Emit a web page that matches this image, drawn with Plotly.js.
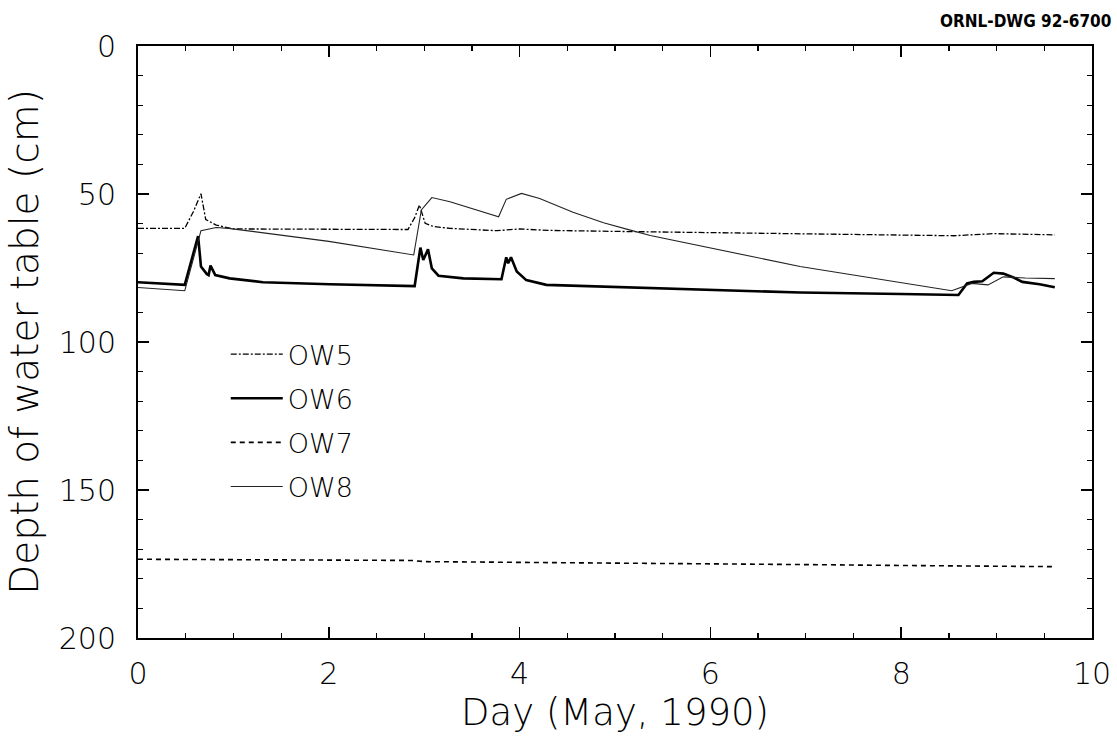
<!DOCTYPE html>
<html>
<head>
<meta charset="utf-8">
<script src="https://cdn.plot.ly/plotly-3.0.1.min.js"></script>
<style>html,body{margin:0;padding:0;background:#fff;}#chart{width:1117px;height:741px;}</style>
</head>
<body>
<div id="chart"></div>
<script>
// Day of May 1990
const ow5Day = [0, 0.49, 0.58, 0.66, 0.71, 0.82, 1.0, 2.0, 2.83, 2.9, 2.95, 3.01, 3.1, 3.27, 3.76, 4.0, 4.3, 5.16, 6.0, 7.0, 8.0, 8.55, 8.97, 9.3, 9.61];
const ow5Depth = [61.6, 61.6, 56, 49.9, 58.6, 60.5, 61.8, 62.0, 62.0, 58, 53.7, 59.9, 61.0, 61.6, 62.4, 61.8, 62.3, 62.7, 63.0, 63.4, 63.8, 64.1, 63.4, 63.6, 63.8];

const ow6Day = [0, 0.49, 0.63, 0.66, 0.72, 0.74, 0.76, 0.81, 0.96, 1.31, 2.01, 2.90, 2.96, 2.99, 3.04, 3.08, 3.15, 3.41, 3.81, 3.86, 3.88, 3.91, 3.97, 4.07, 4.28, 5.16, 6.0, 6.94, 8.0, 8.60, 8.69, 8.76, 8.85, 8.97, 9.07, 9.17, 9.27, 9.45, 9.61];
const ow6Depth = [79.8, 80.7, 64.2, 74.5, 77.0, 77.4, 74.2, 77.4, 78.5, 79.8, 80.5, 81.1, 68.1, 72.3, 68.7, 75.1, 77.6, 78.5, 78.8, 71.4, 73.4, 71.4, 76.2, 79.1, 80.7, 81.6, 82.5, 83.3, 83.8, 84.1, 80.2, 79.7, 79.5, 76.6, 76.9, 78.1, 79.7, 80.5, 81.5];

const ow7Day = [0, 1, 2, 2.87, 3, 4, 5, 6, 7, 8, 9, 9.61];
const ow7Depth = [173.4, 173.6, 173.8, 173.8, 174.2, 174.4, 174.7, 175.0, 175.2, 175.5, 175.6, 175.9];

const ow8Day = [0, 0.49, 0.66, 0.82, 0.95, 2.0, 2.89, 2.97, 3.08, 3.27, 3.78, 3.86, 4.02, 4.21, 4.56, 4.88, 5.16, 5.37, 6.94, 8.53, 8.74, 8.91, 9.07, 9.3, 9.61];
const ow8Depth = [81.6, 82.7, 62.4, 61.3, 61.6, 66.0, 70.6, 55.4, 51.2, 52.6, 57.7, 51.8, 49.8, 51.5, 56.2, 59.7, 62.2, 64.0, 74.5, 82.7, 80.2, 80.7, 78.0, 78.4, 78.6];

const seriesNames = ['OW5', 'OW6', 'OW7', 'OW8'];

const font = '"DejaVu Sans", sans-serif';

const traces = [
  {x: ow5Day, y: ow5Depth, name: seriesNames[0], legendgroup: 'a', mode: 'lines', line: {color: '#000', width: 1.3, dash: '6px,2px,2px,2px'}},
  {x: ow6Day, y: ow6Depth, name: seriesNames[1], legendgroup: 'b', mode: 'lines', line: {color: '#000', width: 2.6}},
  {x: ow7Day, y: ow7Depth, name: seriesNames[2], legendgroup: 'c', mode: 'lines', line: {color: '#000', width: 1.6, dash: '5px,4px'}},
  {x: ow8Day, y: ow8Depth, name: seriesNames[3], legendgroup: 'd', mode: 'lines', line: {color: '#222', width: 1.1}}
];

const layout = {
  width: 1117, height: 741,
  paper_bgcolor: '#fff', plot_bgcolor: '#fff',
  margin: {l: 138, r: 25, t: 46, b: 103},
  showlegend: true,
  legend: {
    x: 0.092, y: 0.52, xanchor: 'left', yanchor: 'top',
    font: {family: font, size: 27, color: '#000', weight: 200},
    bgcolor: 'rgba(0,0,0,0)', itemwidth: 52, tracegroupgap: 6
  },
  xaxis: {
    range: [0, 10], dtick: 2, tick0: 0,
    showgrid: false, zeroline: false,
    showline: true, linecolor: '#000', linewidth: 2, mirror: 'ticks',
    ticks: 'inside', ticklen: 11, tickwidth: 1.5, tickcolor: '#000',
    minor: {dtick: 0.5, ticks: 'inside', ticklen: 5, tickwidth: 1.2, tickcolor: '#000', showgrid: false},
    tickfont: {family: font, size: 30, color: '#000', weight: 200},
    ticklabelstandoff: 8,
    title: {text: 'Day (May, 1990)', font: {family: font, size: 37, color: '#000', weight: 200}, standoff: 4}
  },
  yaxis: {
    range: [200, 0], dtick: 50, tick0: 0,
    showgrid: false, zeroline: false,
    showline: true, linecolor: '#000', linewidth: 2, mirror: 'ticks',
    ticks: 'inside', ticklen: 11, tickwidth: 1.5, tickcolor: '#000',
    minor: {dtick: 10, ticks: 'inside', ticklen: 5, tickwidth: 1.2, tickcolor: '#000', showgrid: false},
    tickfont: {family: font, size: 30, color: '#000', weight: 200},
    ticklabelstandoff: 14,
    title: {text: 'Depth of water table (cm)', font: {family: font, size: 39, color: '#000', weight: 200}, standoff: 8}
  },
  annotations: [{
    text: '<b>ORNL-DWG 92-6700</b>', xref: 'paper', yref: 'paper',
    x: 1.0, y: 1.0, xanchor: 'right', yanchor: 'middle', yshift: 25, xshift: 21,
    showarrow: false, font: {family: '"DejaVu Sans Condensed", "DejaVu Sans", sans-serif', size: 17, color: '#000'}
  }]
};

Plotly.newPlot('chart', traces, layout, {displayModeBar: false, staticPlot: true});
</script>
</body>
</html>
